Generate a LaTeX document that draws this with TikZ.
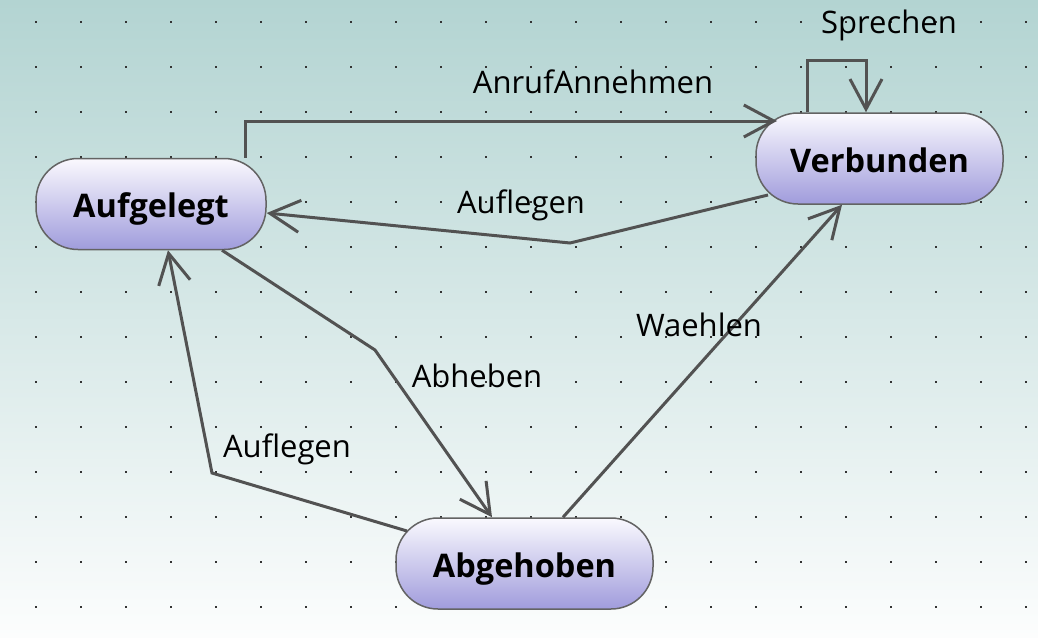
\documentclass[tikz,border=0pt]{standalone}
\usepackage{fontspec}
\setmainfont{Open Sans}
\usepackage{xcolor}
\usetikzlibrary{arrows.meta}

\definecolor{bgtop}{RGB}{179,212,210}
\definecolor{bgbot}{RGB}{252,253,253}
\definecolor{sttop}{RGB}{250,249,254}
\definecolor{stbot}{RGB}{160,156,220}
\definecolor{edge}{RGB}{82,82,82}

\begin{document}
\begin{tikzpicture}[x=1pt,y=-1pt,
    state/.style={draw=edge!90, line width=1.5pt, rounded corners=42pt,
        top color=sttop, bottom color=stbot, minimum height=91pt,
        text height=27pt, text depth=0pt,
        font=\fontsize{32.5}{38}\selectfont\bfseries, inner sep=0pt},
    trans/.style={draw=edge, line width=3pt, line join=miter,
        -{Straight Barb[length=30pt,width=32pt,line width=3pt]}},
    lbl/.style={font=\fontsize{31}{37}\selectfont, inner sep=0pt, anchor=base}]
                \shade [top color=bgtop, bottom color=bgbot] (0,0) rectangle (1038,637);
                \useasboundingbox (0,0) rectangle (1038,637);
                % grid dots
                \foreach \i in {0,...,22}
                  \foreach \j in {0,...,13}
                    \fill [black!80] (36+45*\i-0.8,22+45*\j-0.8) rectangle ++(1.6,1.6);
                % states
                \node [state, minimum width=230pt] (aufgelegt) at (151,204) {Aufgelegt};
                \node [state, minimum width=247pt] (verbunden) at (879.5,158.5) {Verbunden};
                \node [state, minimum width=257pt] (abgehoben) at (524.5,563.5) {Abgehoben};
                % transitions
                \draw [trans] ([xshift=94pt]aufgelegt.north) |- ([shift={(-102.5pt,37.5pt)}]verbunden.center);
                \node [lbl] (lanruf) at (593,93) {AnrufAnnehmen};
                \draw [trans] ([xshift=-72.5pt]verbunden.north) -- ++(0,-52) -| ([xshift=-13.5pt]verbunden.north);
                \node [lbl] (lsprechen) at (889,33) {Sprechen};
                \draw [trans] ([shift={(-111.5pt,-36.5pt)}]verbunden.center) -- (570,243) -- ([yshift=-9pt]aufgelegt.east);
                \node [lbl] (lauflegenA) at (521,213) {Auflegen};
                \draw [trans] ([xshift=71pt]aufgelegt.south) -- (375,350) -- ([xshift=-32.5pt]abgehoben.north);
                \node [lbl] (labheben) at (477,387) {Abheben};
                \draw [trans] ([xshift=38.5pt]abgehoben.north) -- ([xshift=-37.5pt]verbunden.south);
                \node [lbl] (lwaehlen) at (699,336) {Waehlen};
                \draw [trans] ([shift={(-117.5pt,32.5pt)}]abgehoben.center) -- (212,473) -- ([xshift=17pt]aufgelegt.south);
                \node [lbl] (lauflegenB) at (287,457) {Auflegen};
\end{tikzpicture}
\end{document}
